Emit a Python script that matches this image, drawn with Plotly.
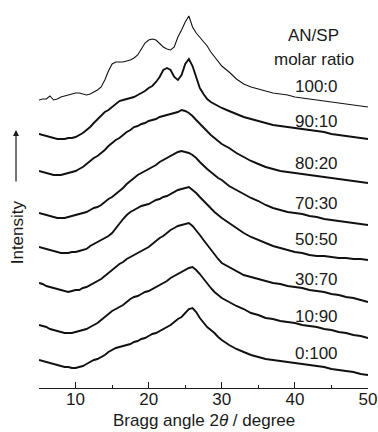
import plotly.graph_objects as go

# Bragg angle 2theta (degree) sample positions
two_theta = [5, 5.5, 6, 6.5, 7, 7.5, 8, 8.5, 9, 9.5,
             10, 10.5, 11, 11.5, 12, 12.5, 13, 13.5, 14, 14.5,
             15, 15.5, 16, 16.5, 17, 17.5, 18, 18.5, 19, 19.5,
             20, 20.5, 21, 21.5, 22, 22.5, 23, 23.5, 24, 24.5,
             25, 25.5, 26, 26.5, 27, 27.5, 28, 28.5, 29, 29.5,
             30, 31, 32, 33, 34, 35, 36, 37, 38, 39, 40,
             41, 42, 43, 44, 45, 46, 47, 48, 49, 50]

# Intensities (arbitrary units, curves offset vertically)
i_100_0 = [288, 289, 289, 292, 288, 289, 291, 292, 293, 294,
           295, 295, 294, 293, 294, 296, 298, 301, 308, 317,
           324, 326, 326, 326, 327, 328, 330, 333, 339, 345,
           348, 349, 348, 344, 341, 339, 338, 341, 351, 358,
           366, 372, 361, 355, 351, 346, 342, 336, 331, 326,
           322, 316, 309, 304, 301, 299, 297, 295, 294, 293, 291,
           290, 289, 288, 287, 286, 285, 284, 283, 282, 281]
i_90_10 = [254, 253, 252, 251, 250, 249, 249, 249, 250, 250,
           251, 253, 255, 258, 261, 265, 269, 273, 276, 278,
           281, 284, 287, 288, 289, 290, 291, 293, 295, 297,
           300, 302, 306, 311, 318, 320, 318, 311, 308, 313,
           324, 329, 322, 312, 300, 294, 289, 286, 284, 282,
           280, 277, 274, 271, 269, 267, 265, 263, 262, 261, 260,
           259, 258, 257, 256, 254, 253, 252, 251, 250, 249]
i_80_20 = [217, 216, 215, 214, 213, 213, 213, 214, 215, 216,
           217, 219, 221, 224, 227, 230, 232, 235, 238, 242,
           245, 248, 250, 253, 256, 258, 261, 262, 264, 265,
           267, 268, 269, 271, 272, 273, 274, 275, 276, 278,
           277, 275, 272, 268, 264, 260, 256, 253, 250, 247,
           244, 240, 235, 231, 227, 224, 221, 219, 217, 216, 215,
           214, 213, 212, 211, 210, 209, 208, 207, 206, 205]
i_70_30 = [175, 174, 173, 172, 171, 170, 170, 170, 171, 172,
           173, 174, 175, 176, 178, 180, 181, 183, 186, 189,
           191, 194, 197, 200, 204, 207, 210, 213, 215, 217,
           219, 221, 223, 226, 228, 230, 232, 234, 236, 237,
           236, 235, 233, 230, 226, 222, 219, 216, 213, 210,
           208, 202, 198, 194, 190, 187, 183, 180, 178, 176, 175,
           174, 172, 171, 169, 168, 167, 166, 165, 164, 163]
i_50_50 = [141, 140, 139, 138, 137, 136, 135, 135, 135, 136,
           136, 137, 138, 139, 142, 144, 146, 148, 150, 152,
           155, 160, 165, 169, 173, 176, 178, 180, 182, 183,
           184, 186, 188, 189, 191, 192, 194, 196, 198, 199,
           200, 201, 198, 195, 191, 187, 183, 180, 176, 173,
           170, 165, 160, 155, 151, 148, 145, 142, 140, 138, 136,
           135, 133, 132, 132, 131, 130, 130, 129, 129, 128]
i_30_70 = [105, 104, 102, 101, 100, 99, 98, 97, 96, 97,
           98, 98, 100, 101, 103, 105, 107, 109, 112, 115,
           118, 121, 124, 126, 129, 131, 133, 135, 137, 139,
           141, 144, 147, 150, 152, 155, 158, 160, 162, 163,
           164, 165, 162, 158, 153, 148, 143, 138, 133, 129,
           125, 121, 117, 113, 111, 109, 107, 105, 104, 102, 101,
           100, 98, 97, 96, 94, 93, 91, 90, 88, 86]
i_10_90 = [63, 62, 61, 59, 58, 57, 56, 55, 55, 55,
           56, 57, 58, 59, 61, 63, 65, 68, 71, 74,
           77, 79, 81, 83, 86, 89, 91, 92, 94, 96,
           97, 99, 101, 103, 105, 107, 110, 112, 114, 116,
           118, 120, 121, 118, 114, 109, 104, 100, 96, 93,
           90, 86, 82, 79, 75, 73, 70, 69, 67, 66, 65,
           63, 62, 61, 59, 58, 56, 55, 53, 52, 50]
i_0_100 = [28, 27, 26, 25, 24, 23, 22, 21, 21, 20,
           20, 21, 22, 24, 26, 28, 29, 31, 33, 36,
           38, 40, 41, 42, 43, 44, 46, 47, 49, 50,
           52, 54, 55, 57, 59, 61, 63, 66, 69, 71,
           75, 79, 80, 76, 70, 65, 61, 58, 55, 51,
           48, 43, 39, 36, 33, 31, 29, 28, 27, 26, 25,
           24, 23, 22, 21, 19, 18, 17, 16, 14, 13]

series = [i_100_0, i_90_10, i_80_20, i_70_30, i_50_50, i_30_70, i_10_90, i_0_100]
ratio_labels = ["100:0", "90:10", "80:20", "70:30", "50:50", "30:70", "10:90", "0:100"]
label_levels = [302, 267, 225, 185, 149, 109, 72, 35]

FONT = "Liberation Sans, Arial, Helvetica, sans-serif"
INK = "#1a1a1a"

fig = go.Figure()
for k, (vals, name) in enumerate(zip(series, ratio_labels)):
    fig.add_trace(go.Scatter(
        x=two_theta, y=vals, mode="lines", name=name,
        line=dict(color="#111111", width=1.1 if k == 0 else 1.9),
        showlegend=False, hoverinfo="skip"))

annotations = []
for name, lv in zip(ratio_labels, label_levels):
    annotations.append(dict(x=43.0, y=lv, xref="x", yref="y", text=name,
                            showarrow=False, xanchor="center", yanchor="middle",
                            font=dict(size=17, color=INK, family=FONT)))
annotations.append(dict(x=42.5, y=353, xref="x", yref="y", text="AN/SP",
                        showarrow=False, xanchor="center", yanchor="middle",
                        font=dict(size=17, color=INK, family=FONT)))
annotations.append(dict(x=42.6, y=329, xref="x", yref="y", text="molar ratio",
                        showarrow=False, xanchor="center", yanchor="middle",
                        font=dict(size=17, color=INK, family=FONT)))
# axis title
annotations.append(dict(x=0.5, y=-0.085, xref="paper", yref="paper",
                        text="Bragg angle 2<i>θ</i> / degree",
                        showarrow=False, xanchor="center", yanchor="middle",
                        font=dict(size=17, color=INK, family=FONT)))
# Intensity label
annotations.append(dict(x=-0.066, y=156, xref="paper", yref="y", text="Intensity",
                        textangle=-90, showarrow=False, xanchor="center", yanchor="middle",
                        font=dict(size=17, color=INK, family=FONT)))
# arrow
annotations.append(dict(x=-0.0699, y=258, xref="paper", yref="y", text="",
                        showarrow=True, ax=0, ay=53, arrowhead=2, arrowsize=1,
                        arrowwidth=1.2, arrowcolor=INK))

fig.update_layout(
    width=378, height=432,
    margin=dict(l=39, r=10, t=0, b=44),
    paper_bgcolor="white", plot_bgcolor="white",
    annotations=annotations,
    xaxis=dict(range=[5, 50], showgrid=False, zeroline=False,
               showline=True, linecolor=INK, linewidth=1.2,
               ticks="inside", ticklen=6, tickwidth=1.2, tickcolor=INK,
               tick0=0, dtick=10, ticklabelstandoff=-5,
               minor=dict(ticks="inside", ticklen=3, tickwidth=1.2, tickcolor=INK,
                          tick0=5, dtick=5),
               tickfont=dict(size=17, color=INK, family=FONT)),
    yaxis=dict(range=[0, 388], visible=False),
)

fig.write_html("out.html")
